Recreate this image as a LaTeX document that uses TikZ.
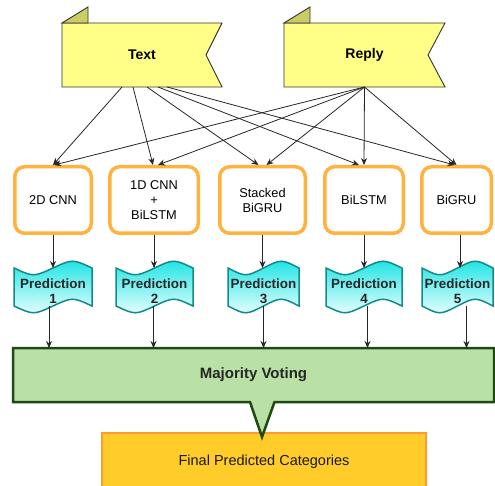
\documentclass[tikz,border=0pt]{standalone}
\usepackage{fontspec}
\setmainfont{Liberation Sans}
\usetikzlibrary{arrows.meta,calc,backgrounds}

\definecolor{flagfill}{HTML}{FFFF88}
\definecolor{foldfill}{HTML}{CCCC66}
\definecolor{modelline}{HTML}{FFB23E}
\definecolor{predtop}{HTML}{1CE3E3}
\definecolor{predbot}{HTML}{EAFFFF}
\definecolor{predline}{HTML}{128A8A}
\definecolor{votefill}{HTML}{B9E0A5}
\definecolor{voteline}{HTML}{1E4A12}
\definecolor{finfill}{HTML}{FFCC29}
\definecolor{finline}{HTML}{FF9A33}

% flag with folded corner, #2 = depth of the notch
\newcommand{\flagshape}[2]{%
  \draw[flag line] (#1.south west) -- (#1.north west) -- (#1.north east)
    -- ([xshift=-#2]#1.east) -- (#1.south east) -- cycle;
  \draw[flag line,fill=foldfill] (#1.north west) -- ([xshift=26,yshift=16]#1.north west)
    -- ([xshift=26]#1.north west) -- cycle;}

% wavy tape round a prediction node
\newcommand{\wave}[1]{%
  \draw[pred line] let \p1=(#1.south west), \p2=(#1.north east), \n1={(\x2-\x1)/4} in
    (\x1,\y2) .. controls (\x1+\n1,\y2-9pt) .. (\x1+2*\n1,\y2)
              .. controls (\x1+3*\n1,\y2+9pt) .. (\x2,\y2)
    -- (\x2,\y1) .. controls (\x1+3*\n1,\y1+9pt) .. (\x1+2*\n1,\y1)
              .. controls (\x1+\n1,\y1-9pt) .. (\x1,\y1) -- cycle;}

\begin{document}
\begin{tikzpicture}[x=1pt,y=1pt,
    link/.style={-{Stealth[length=7pt,width=6pt]},black!85,line width=0.8pt},
    flag node/.style={minimum width=#1,minimum height=64,inner sep=0,outer sep=0,
                      font=\fontsize{14}{16}\selectfont\bfseries},
    flag line/.style={draw=black!80,line width=0.9pt,fill=flagfill},
    model node/.style={draw=modelline,line width=3.5pt,rounded corners=10pt,fill=white,
                       minimum width=#1,minimum height=66.5,inner sep=1pt,align=center,
                       font=\fontsize{12.8}{15}\selectfont},
    pred node/.style={minimum width=#1,minimum height=38,inner sep=0,outer sep=0,align=center,
                      text height=33pt,text depth=0pt,
                      font=\fontsize{13.4}{15}\selectfont\bfseries,text=black!85},
    pred line/.style={draw=predline,line width=1.5pt,top color=predtop,bottom color=predbot},
    vote line/.style={draw=voteline,line width=2.5pt,fill=votefill,line join=miter}]
  \useasboundingbox (0,0) rectangle (495,-486);

  % inputs
  \node[flag node=160] (t) at (142,-55) {Text};
  \node[flag node=161] (r) at (364.5,-55) {Reply};

  % models
  \node[model node=76.5] (m1) at (53,-200) {2D CNN};
  \node[model node=88.5] (m2) at (154,-200) {1D CNN\\+\\BiLSTM};
  \node[model node=85.5] (m3) at (262.5,-200) {Stacked\\BiGRU};
  \node[model node=78.5] (m4) at (364,-200) {BiLSTM};
  \node[model node=69.5] (m5) at (456.5,-200) {BiGRU};

  % predictions
  \node[pred node=78] (p1) at (53,-287) {Prediction\\1};
  \node[pred node=77] (p2) at (154.5,-287) {Prediction\\2};
  \node[pred node=71] (p3) at (263.5,-287) {Prediction\\3};
  \node[pred node=76] (p4) at (364,-287) {Prediction\\4};
  \node[pred node=71] (p5) at (457.5,-287) {Prediction\\5};

  \node[minimum width=481,minimum height=54,inner sep=0,outer sep=0,
        font=\fontsize{15}{17}\selectfont\bfseries,text=black!85] (mv) at (253.5,-375) {Majority Voting};
  \node[minimum width=324,minimum height=58,inner sep=0,outer sep=0,
        font=\fontsize{14.5}{17}\selectfont,text=black!90] (fin) at (264,-462) {Final Predicted Categories};

  \begin{scope}[on background layer]
    \flagshape{t}{16}
    \flagshape{r}{17}
    \foreach \i in {1,...,5} \wave{p\i};
    \draw[draw=finline,line width=2pt,fill=finfill] (fin.north west) rectangle (fin.south east);
    \draw[vote line] (mv.north west) -- (mv.north east) -- (mv.south east)
      -- ([xshift=21]mv.south) -- ([xshift=8.5,yshift=-35]mv.south)
      -- ([xshift=-3.5]mv.south) -- (mv.south west) -- cycle;
  \end{scope}

  \foreach \i/\a/\b in {1/-20/0,2/-9/-1,3/5/-4,4/16/-5,5/25/-2}
    \draw[link] ([xshift=\a]t.south) -- ([xshift=\b]m\i.north);
  \foreach \i/\b in {1/1,2/4,3/4,4/0,5/0}
    \draw[link] (r.south) -- ([xshift=\b]m\i.north);
  \foreach \i/\a in {1/0,2/0,3/0,4/0,5/3.5}
    \draw[link] ([xshift=\a]m\i.south) -- ([xshift=\a]m\i.south |- p\i.north);
  \foreach \i/\a in {1/-4,2/-1,3/0,4/3.5,5/9}
    \draw[link] ([xshift=\a]p\i.south) -- ([xshift=\a]p\i.south |- mv.north);
\end{tikzpicture}
\end{document}
